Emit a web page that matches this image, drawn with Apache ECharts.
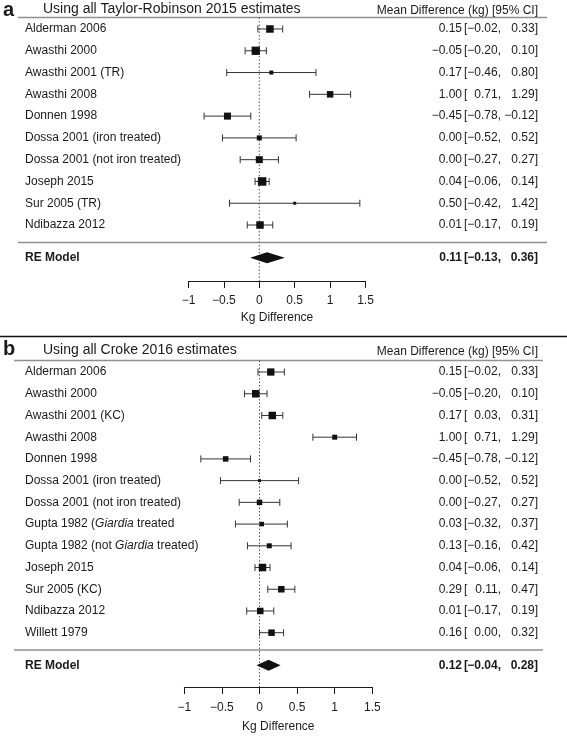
<!DOCTYPE html>
<html>
<head>
<meta charset="utf-8">
<script src="https://cdn.jsdelivr.net/npm/echarts@6/dist/echarts.min.js"></script>
<style>
html,body{margin:0;padding:0;background:#fff;}
#c{width:567px;height:736px;}
</style>
</head>
<body>
<div id="c"></div>
<script>
// ---------- DATA ----------
const studiesA = ['Alderman 2006','Awasthi 2000','Awasthi 2001 (TR)','Awasthi 2008','Donnen 1998',
  'Dossa 2001 (iron treated)','Dossa 2001 (not iron treated)','Joseph 2015','Sur 2005 (TR)','Ndibazza 2012'];
const estA  = [0.15,-0.05,0.17,1.00,-0.45,0.00,0.00,0.04,0.50,0.01];
const lowA  = [-0.02,-0.20,-0.46,0.71,-0.78,-0.52,-0.27,-0.06,-0.42,-0.17];
const highA = [0.33,0.10,0.80,1.29,-0.12,0.52,0.27,0.14,1.42,0.19];
const weightA = [7.5,8.3,4,6.5,7,5,7,8.5,3,7.5];
const reA = [0.11,-0.13,0.36];

const studiesB = ['Alderman 2006','Awasthi 2000','Awasthi 2001 (KC)','Awasthi 2008','Donnen 1998',
  'Dossa 2001 (iron treated)','Dossa 2001 (not iron treated)','Gupta 1982 ({i|Giardia} treated',
  'Gupta 1982 (not {i|Giardia} treated)','Joseph 2015','Sur 2005 (KC)','Ndibazza 2012','Willett 1979'];
const estB  = [0.15,-0.05,0.17,1.00,-0.45,0.00,0.00,0.03,0.13,0.04,0.29,0.01,0.16];
const lowB  = [-0.02,-0.20,0.03,0.71,-0.78,-0.52,-0.27,-0.32,-0.16,-0.06,0.11,-0.17,0.00];
const highB = [0.33,0.10,0.31,1.29,-0.12,0.52,0.27,0.37,0.42,0.14,0.47,0.19,0.32];
const weightB = [7.3,7.5,7.5,5,5.5,3,5.5,4.5,5,7.5,6.5,6.5,6.5];
const reB = [0.12,-0.04,0.28];

const xTicks = [-1,-0.5,0,0.5,1,1.5];
const titleA = 'Using all Taylor-Robinson 2015 estimates';
const titleB = 'Using all Croke 2016 estimates';
const headerText = 'Mean Difference (kg) [95% CI]';
const axisName = 'Kg Difference';

// ---------- LAYOUT / STYLE ----------
const FONT = '"Liberation Sans", Arial, Helvetica, sans-serif';
const TXT = '#1a1a1a';
const X_LABEL = 25, X_EST = 462, X_BR = 464, X_LO = 501, X_HI = 538;

function fmt(v){ return v.toFixed(2).replace('-', '\u2212'); }

function txt(x, y, text, align, bold, extra){
  const st = Object.assign({
    text: text, x: 0, y: 0,
    font: (bold ? 'bold ' : '') + '12px ' + FONT,
    fill: TXT,
    align: align, textAlign: align,
    verticalAlign: 'middle', textVerticalAlign: 'middle'
  }, extra || {});
  return {type: 'text', x: x, y: y, style: st};
}

function valueTexts(y, e, l, h, bold){
  return [
    txt(X_EST, y, fmt(e), 'right', bold),
    txt(X_BR, y, '[', 'left', bold),
    txt(X_LO, y, fmt(l) + ',', 'right', bold),
    txt(X_HI, y, fmt(h) + ']', 'right', bold)
  ];
}

function rowSeries(gi, names, est, lo, hi, w){
  return {
    type: 'custom', xAxisIndex: gi, yAxisIndex: gi, clip: false, silent: true, z: 5,
    data: names.map((n, i) => [est[i], lo[i], hi[i], i + 1, w[i], i]),
    renderItem: function(params, api){
      const r = api.value(3);
      const pE = api.coord([api.value(0), r]);
      const pL = api.coord([api.value(1), r]);
      const pH = api.coord([api.value(2), r]);
      const y = pE[1];
      const s = api.value(4);
      const idx = api.value(5);
      const ls = {stroke: '#333', lineWidth: 1};
      const ch = [
        {type: 'line', shape: {x1: pL[0], y1: y, x2: pH[0], y2: y}, style: ls},
        {type: 'line', shape: {x1: pL[0], y1: y - 3.5, x2: pL[0], y2: y + 3.5}, style: ls},
        {type: 'line', shape: {x1: pH[0], y1: y - 3.5, x2: pH[0], y2: y + 3.5}, style: ls},
        {type: 'rect', shape: {x: pE[0] - s / 2, y: y - s / 2, width: s, height: s}, style: {fill: '#111'}},
        txt(X_LABEL, y, names[idx], 'left', false, {rich: {i: {fontStyle: 'italic', fontSize: 12, fontFamily: FONT, fill: TXT}}})
      ].concat(valueTexts(y, api.value(0), api.value(1), api.value(2), false));
      return {type: 'group', children: ch};
    }
  };
}

function reSeries(gi, n, re){
  return {
    type: 'custom', xAxisIndex: gi, yAxisIndex: gi, clip: false, silent: true, z: 5,
    data: [[re[0], re[1], re[2], n + 1.5]],
    renderItem: function(params, api){
      const r = api.value(3);
      const pE = api.coord([api.value(0), r]);
      const pL = api.coord([api.value(1), r]);
      const pH = api.coord([api.value(2), r]);
      const y = pE[1], hh = 5.5;
      const ch = [
        {type: 'polygon', shape: {points: [[pL[0], y], [pE[0], y - hh], [pH[0], y], [pE[0], y + hh]]}, style: {fill: '#111'}},
        txt(X_LABEL, y, 'RE Model', 'left', true)
      ].concat(valueTexts(y, api.value(0), api.value(1), api.value(2), true));
      return {type: 'group', children: ch};
    }
  };
}

function decorSeries(gi, n, x1, x2, yMax){
  return {
    type: 'custom', xAxisIndex: gi, yAxisIndex: gi, clip: false, silent: true, z: 2,
    data: [[0, 0.47, n + 0.8, yMax]],
    renderItem: function(params, api){
      const top = api.coord([api.value(0), api.value(1)]);
      const sep = api.coord([api.value(0), api.value(2)]);
      const bot = api.coord([api.value(0), api.value(3)]);
      const gray = {stroke: '#8f8f8f', lineWidth: 1.5};
      return {type: 'group', children: [
        {type: 'line', shape: {x1: x1, y1: top[1], x2: x2, y2: top[1]}, style: gray},
        {type: 'line', shape: {x1: x1, y1: sep[1], x2: x2, y2: sep[1]}, style: gray},
        {type: 'line', shape: {x1: top[0], y1: top[1], x2: bot[0], y2: bot[1]}, style: {stroke: '#555', lineWidth: 1, lineDash: [1.5, 2]}}
      ]};
    }
  };
}

function xAxisOf(gi, margin, gap){
  return {
    type: 'value', gridIndex: gi, position: 'bottom',
    min: xTicks[0], max: xTicks[xTicks.length - 1], interval: xTicks[1] - xTicks[0],
    splitLine: {show: false},
    axisLine: {show: true, onZero: false, lineStyle: {color: TXT, width: 1}},
    axisTick: {show: true, length: 7, inside: false, lineStyle: {color: TXT, width: 1}},
    axisLabel: {margin: margin, fontSize: 12, fontFamily: FONT, color: TXT,
      formatter: v => String(v).replace('-', '\u2212')},
    name: axisName, nameLocation: 'middle', nameGap: gap,
    nameTextStyle: {fontSize: 12, fontFamily: FONT, color: TXT}
  };
}

const maxA = studiesA.length + 2.57;
const maxB = studiesB.length + 2.5;

const chart = echarts.init(document.getElementById('c'), null, {renderer: 'canvas'});
chart.setOption({
  animation: false,
  backgroundColor: '#fff',
  grid: [
    {left: 188.5, right: 201.5, top: 7.2, bottom: 455},
    {left: 184.3, right: 194.7, top: 350.3, bottom: 49}
  ],
  xAxis: [xAxisOf(0, 14, 31), xAxisOf(1, 15, 34)],
  yAxis: [
    {type: 'value', gridIndex: 0, inverse: true, min: 0, max: maxA, show: false},
    {type: 'value', gridIndex: 1, inverse: true, min: 0, max: maxB, show: false}
  ],
  graphic: [
    {type: 'text', x: 3, y: 10, style: {text: 'a', font: 'bold 20px ' + FONT, fill: TXT, textVerticalAlign: 'middle', verticalAlign: 'middle'}},
    {type: 'text', x: 43, y: 9, style: {text: titleA, font: '14px ' + FONT, fill: TXT, textVerticalAlign: 'middle', verticalAlign: 'middle'}},
    {type: 'text', right: 567 - X_HI, y: 5, style: {text: headerText, font: '12px ' + FONT, fill: TXT}},
    {type: 'line', shape: {x1: 0, y1: 336.5, x2: 567, y2: 336.5}, style: {stroke: '#111', lineWidth: 1.5}},
    {type: 'text', x: 3, y: 349, style: {text: 'b', font: 'bold 20px ' + FONT, fill: TXT, textVerticalAlign: 'middle', verticalAlign: 'middle'}},
    {type: 'text', x: 43, y: 350, style: {text: titleB, font: '14px ' + FONT, fill: TXT, textVerticalAlign: 'middle', verticalAlign: 'middle'}},
    {type: 'text', right: 567 - X_HI, y: 346, style: {text: headerText, font: '12px ' + FONT, fill: TXT}}
  ],
  series: [
    decorSeries(0, studiesA.length, 18, 547, maxA),
    rowSeries(0, studiesA, estA, lowA, highA, weightA),
    reSeries(0, studiesA.length, reA),
    decorSeries(1, studiesB.length, 14, 543, maxB),
    rowSeries(1, studiesB, estB, lowB, highB, weightB),
    reSeries(1, studiesB.length, reB)
  ]
});
</script>
</body>
</html>
